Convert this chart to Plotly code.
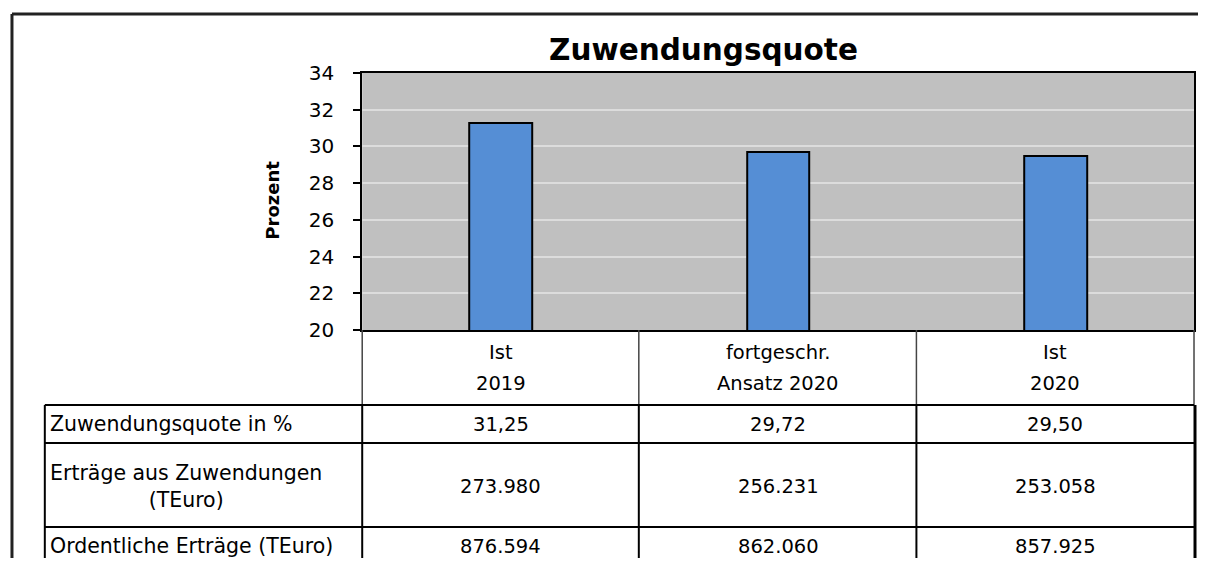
import plotly.graph_objects as go

# ---- data ----
categories = ["Ist<br>2019", "fortgeschr.<br>Ansatz 2020", "Ist<br>2020"]
quote_values = [31.25, 29.72, 29.50]
row_labels = ["Zuwendungsquote in %", "Erträge aus Zuwendungen<br>(TEuro)", "Ordentliche Erträge (TEuro)"]
row_quote = ["31,25", "29,72", "29,50"]
row_zuwendungen = ["273.980", "256.231", "253.058"]
row_ertraege = ["876.594", "862.060", "857.925"]
y_ticks = [20, 22, 24, 26, 28, 30, 32, 34]

# The page adds an 8px body margin; size the figure so it fits the window
WF, HF = 1190, 550
FONT = "DejaVu Sans"

def fx(x):  # window pixel -> figure pixel
    return (x - 8) * 1188 / 1194

def fy(y):
    return (y - 8)

def px(x):
    return fx(x) / WF

def py(y):
    return 1 - fy(y) / HF

fig = go.Figure()
fig.add_trace(go.Bar(
    x=categories, y=quote_values,
    marker=dict(color="#558ed5", line=dict(color="black", width=2)),
    width=0.226,
))

# plot area (window pixels)
PL, PR, PT, PB = 364, 1200, 73, 330

fig.update_layout(
    width=WF, height=HF,
    margin=dict(l=0, r=0, t=0, b=0),
    paper_bgcolor="white",
    plot_bgcolor="#c0c0c0",
    showlegend=False,
    bargap=0,
    xaxis=dict(domain=[px(PL), px(PR)], showticklabels=False, ticks="",
               showgrid=False, showline=True, linecolor="black", linewidth=2,
               mirror=True, zeroline=False, fixedrange=True, automargin=False),
    yaxis=dict(domain=[py(PB), py(PT)], range=[20, 34], tickvals=y_ticks,
               showgrid=True, gridcolor="#dcdcdc", gridwidth=1.5,
               ticks="outside", ticklen=7, tickcolor="black", tickwidth=1.5,
               ticklabelstandoff=15,
               tickfont=dict(family=FONT, size=20, color="black"),
               showline=True, linecolor="black", linewidth=2, mirror=True,
               zeroline=False, fixedrange=True, automargin=False),
)

shapes = []
def line(x0, y0, x1, y1, color="black", width=2):
    shapes.append(dict(type="line", xref="paper", yref="paper",
                       x0=px(x0), y0=py(y0), x1=px(x1), y1=py(y1),
                       line=dict(color=color, width=width)))

# outer frame
line(12, 14, 1214, 14, "#222", 3)
line(12, 14, 12, 580, "#222", 3)

# header row (category labels) verticals
col_x = [364, 642, 921, 1200]
for x in col_x:
    line(x, PB, x, 405, "#444", 1.5)

# table lines
row_y = [405, 443, 527]
for y in row_y:
    line(45, y, 1200, y, "black", 2)
for x in [45] + col_x[:-1]:
    line(x, 405, x, 580, "black", 2)
line(1201, 405, 1201, 580, "black", 3)

fig.update_layout(shapes=shapes)

ann = []
# title
ann.append(dict(text="<b>Zuwendungsquote</b>", xref="paper", yref="paper",
                x=px(707), y=py(50), xanchor="center", yanchor="middle",
                showarrow=False, font=dict(family=FONT, size=29.5, color="black")))
# y axis title
ann.append(dict(text="<b>Prozent</b>", xref="paper", yref="paper",
                x=px(273), y=py(200), xanchor="center", yanchor="middle",
                showarrow=False, textangle=-90,
                font=dict(family=FONT, size=18, color="black")))

# category labels in header row (two lines, wider spacing as in the reference)
for c in categories:
    for part, yl in zip(c.split("<br>"), [352, 383]):
        ann.append(dict(text=part, xref="x", yref="paper", x=c, y=py(yl),
                        xanchor="center", yanchor="middle",
                        showarrow=False,
                        font=dict(family=FONT, size=19.5, color="black")))

# table rows
row_centers = [424, 487, 546]
row_vals = [row_quote, row_zuwendungen, row_ertraege]
for lbl, yc, vals in zip(row_labels, row_centers, row_vals):
    ann.append(dict(text=lbl, xref="paper", yref="paper", x=px(48), y=py(yc),
                    xanchor="left", yanchor="middle", align="center",
                    showarrow=False,
                    font=dict(family=FONT, size=20.5, color="black")))
    for c, v in zip(categories, vals):
        ann.append(dict(text=v, xref="x", yref="paper", x=c, y=py(yc),
                        xanchor="center", yanchor="middle", showarrow=False,
                        font=dict(family=FONT, size=19.5, color="black")))

fig.update_layout(annotations=ann)
fig.write_html("out.html")
